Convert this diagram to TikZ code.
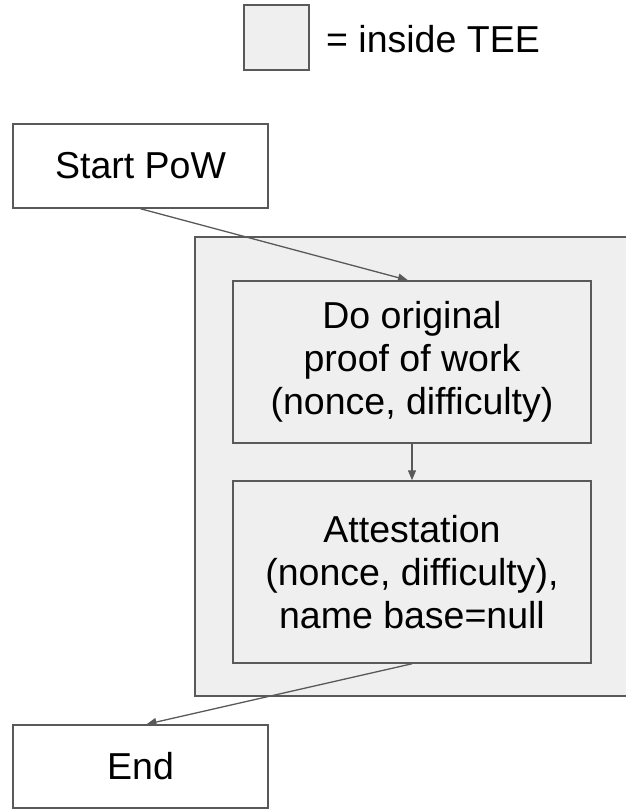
\documentclass[tikz,border=0pt]{standalone}
\usepackage{fontspec}
\setmainfont{Liberation Sans}
\usetikzlibrary{arrows.meta}
\definecolor{edge}{HTML}{595959}
\definecolor{teefill}{HTML}{EFEFEF}
\begin{document}
\begin{tikzpicture}[x=1pt,y=-1pt,
  every node/.style={font=\fontsize{37.5}{43}\selectfont, text=black},
  box/.style={draw=edge, line width=1.5pt, rectangle, inner sep=0pt, align=center},
  plainbox/.style={box, fill=white},
  teebox/.style={box, fill=teefill},
  flow/.style={draw=edge, line width=1.3pt, -{Triangle[length=10pt,width=8pt]}}]
\useasboundingbox (0,0) rectangle (625,811);
% legend
\node[teebox, minimum width=65pt, minimum height=65pt] (legend) at (276.5,37.5) {};
\node[anchor=base west, inner sep=0pt] (legendtext) at (326,52) {= inside TEE};
% trusted execution area
\node[teebox, minimum width=432pt, minimum height=459pt] (tee) at (411,466.5) {};
% flow steps
\node[plainbox, minimum width=255pt, minimum height=84pt] (start) at (140.5,166) {Start PoW};
\node[teebox, minimum width=358pt, minimum height=162pt] (pow) at (412,362)
  {Do original\\proof of work\\(nonce, difficulty)};
\node[teebox, minimum width=358pt, minimum height=182pt] (att) at (412,572)
  {Attestation\\(nonce, difficulty),\\name base=null};
\node[plainbox, minimum width=255pt, minimum height=83pt] (end) at (140.5,766.5) {End};
% connectors
\draw[flow] (start.south) -- ([xshift=-4pt]pow.north);
\draw[flow] (pow.south) -- (att.north);
\draw[flow] (att.south) -- ([xshift=6pt]end.north);
\end{tikzpicture}
\end{document}
